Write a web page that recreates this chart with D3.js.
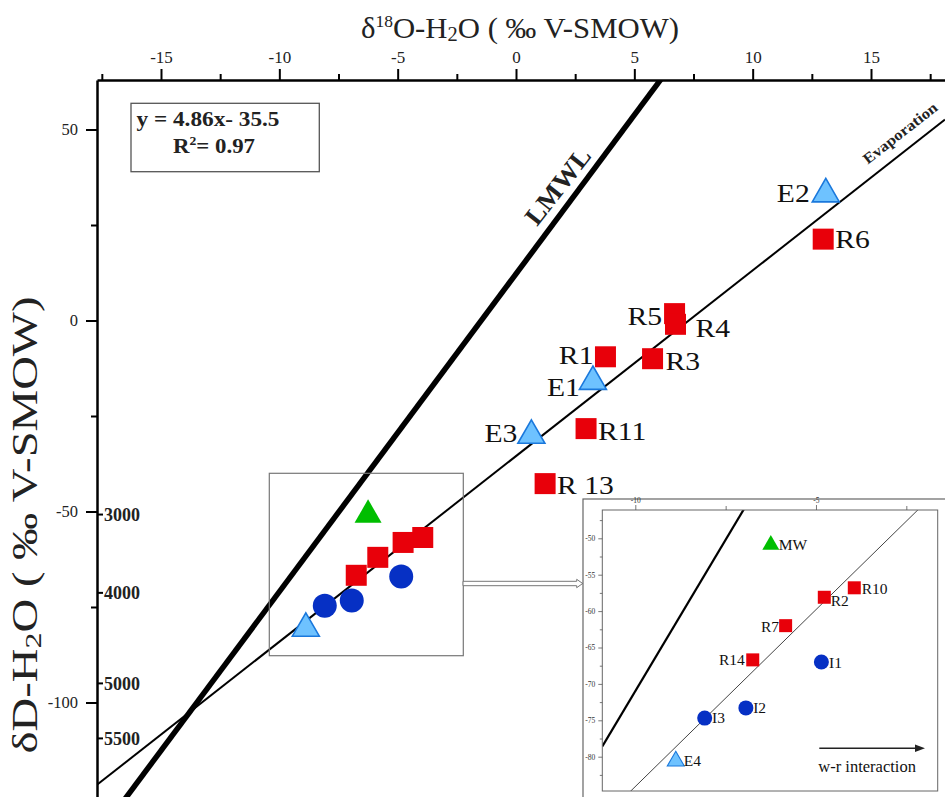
<!DOCTYPE html>
<html><head><meta charset="utf-8">
<script src="https://cdn.jsdelivr.net/npm/d3@7"></script>
<style>body{margin:0;background:#fff}svg{display:block}</style>
</head><body>
<script>
// ---------- data ----------
const xTicksMajor = [-15, -10, -5, 0, 5, 10, 15];
const xTicksMinor = [-17.5, -12.5, -7.5, -2.5, 2.5, 7.5, 12.5, 17.5];
const yTicksMajor = [50, 0, -50, -100];
const yTicksMinor = [25, -25, -75];
const elevLabels = ["3000", "4000", "5000", "5500"];
const elevDelta = [-50.8, -71.3, -95.0, -109.4];

const sampleNames = ["E2", "R6", "R5", "R4", "R1", "R3", "E1", "E3", "R11", "R13",
                     "MW", "R10", "R2", "R7", "R14", "I1", "I2", "I3", "E4"];
const sampleType  = ["E", "R", "R", "R", "R", "R", "E", "E", "R", "R",
                     "MW", "R", "R", "R", "R", "I", "I", "I", "E"];
const d18O = [13.09, 12.98, 6.70, 6.74, 3.78, 5.77, 3.25, 0.65, 2.96, 1.23,
              -6.25, -3.94, -4.77, -5.84, -6.75, -4.85, -6.94, -8.08, -8.88];
const dD   = [33.1, 21.3, 1.8, -1.0, -9.5, -10.0, -16.0, -30.1, -28.3, -42.7,
              -50.9, -56.8, -58.1, -62.0, -66.7, -67.0, -73.3, -74.7, -80.6];
const mainLabelText = {E2: "E2", R6: "R6", R5: "R5", R4: "R4", R1: "R1", R3: "R3",
                       E1: "E1", E3: "E3", R11: "R11", R13: "R 13"};
const insetNames = ["MW", "R10", "R2", "R7", "R14", "I1", "I2", "I3", "E4"];
const insetXTicks = [-10, -5];
const insetXMinor = [-7.5, -2.5];
const insetYTicks = [-50, -55, -60, -65, -70, -75, -80];
const insetYMinor = [-47.5, -52.5, -57.5, -62.5, -67.5, -72.5, -77.5, -82.5];

const evapSlope = 4.86, evapIntercept = -35.5;
const lmwlSlope = 8.32, lmwlIntercept = 12.2;

// ---------- layout / style ----------
const W = 945, H = 797;
const SERIF = "'Liberation Serif','Times New Roman',serif";
const colors = {R: "#e8000a", I: "#0630c4", E: "#6ec2ff", MW: "#00be00"};
const strokes = {R: "none", I: "none", E: "#1a78dc", MW: "none"};
const symbols = {R: d3.symbolSquare, I: d3.symbolCircle, E: d3.symbolTriangle, MW: d3.symbolTriangle};
const mainSize = {R: 441, I: 452, E: 316, MW: 316};
const insetSize = {R: 169, I: 177, E: 125, MW: 125};

// label offsets [dx, dy, anchor]
const mainOff = {E2: [-16, 8, "end"], R6: [12, 9, "start"], R5: [-12.5, 11, "end"], R4: [20, 13, "start"],
  R1: [-12, 7, "end"], R3: [13, 11, "start"], E1: [-13, 14, "end"], E3: [-14, 7, "end"],
  R11: [12, 11, "start"], R13: [12, 10, "start"]};
const insetOff = {MW: [8, 5, "start"], R10: [7.5, 6, "start"], R2: [6.5, 9, "start"], R7: [-6.5, 6, "end"],
  R14: [-8, 5, "end"], I1: [7.6, 6, "start"], I2: [7.3, 5, "start"], I3: [7.3, 5, "start"], E4: [8, 5, "start"]};

const samples = sampleNames.map((n, i) => ({name: n, type: sampleType[i], x: d18O[i], y: dD[i]}));

// stretch a text horizontally (the reference typography is slightly wide)
function stretch(sel, k) {
  sel.each(function () {
    const L = this.getComputedTextLength();
    d3.select(this).attr("textLength", L * k).attr("lengthAdjust", "spacingAndGlyphs");
  });
}

const svg = d3.select("body").append("svg").attr("width", W).attr("height", H)
  .style("font-family", SERIF);
svg.append("rect").attr("width", W).attr("height", H).attr("fill", "#fff");

const pLeft = 97, pTop = 80, pRight = 945, pBottom = 797;
const x = d3.scaleLinear().domain([(pLeft - 516) / 23.667, (pRight - 516) / 23.667]).range([pLeft, pRight]);
const y = d3.scaleLinear().domain([(320.5 - pTop) / 3.82, (320.5 - pBottom) / 3.82]).range([pTop, pBottom]);

const defs = svg.append("defs");
defs.append("clipPath").attr("id", "mainClip").append("rect")
  .attr("x", pLeft).attr("y", pTop).attr("width", pRight - pLeft).attr("height", pBottom - pTop);

// ---------- lines ----------
const lineGen = (xs, ys, m, b) => d3.line()(xs.domain().map(v => [xs(v), ys(m * v + b)]));
const gl = svg.append("g").attr("clip-path", "url(#mainClip)");
gl.append("path").attr("d", lineGen(x, y, lmwlSlope, lmwlIntercept))
  .attr("stroke", "#000").attr("stroke-width", 5.5).attr("fill", "none");
gl.append("path").attr("d", lineGen(x, y, evapSlope, evapIntercept))
  .attr("stroke", "#000").attr("stroke-width", 2).attr("fill", "none");

// ---------- axes ----------
const fmt = d => String(d);
const axTop = svg.append("g").attr("transform", `translate(0,${pTop})`)
  .call(d3.axisTop(x).tickValues(xTicksMajor).tickFormat(fmt).tickSize(11).tickPadding(6).tickSizeOuter(0));
svg.append("g").attr("transform", `translate(0,${pTop})`)
  .call(d3.axisTop(x).tickValues(xTicksMinor).tickFormat("").tickSize(6).tickSizeOuter(0))
  .select(".domain").remove();
const axLeft = svg.append("g").attr("transform", `translate(${pLeft},0)`)
  .call(d3.axisLeft(y).tickValues(yTicksMajor).tickFormat(fmt).tickSize(11).tickPadding(8).tickSizeOuter(0));
svg.append("g").attr("transform", `translate(${pLeft},0)`)
  .call(d3.axisLeft(y).tickValues(yTicksMinor).tickFormat("").tickSize(6).tickSizeOuter(0))
  .select(".domain").remove();
svg.selectAll(".domain").attr("stroke", "#000").attr("stroke-width", 2.5);
svg.selectAll(".tick line").attr("stroke", "#000").attr("stroke-width", 2);
axTop.selectAll("text").attr("font-family", SERIF).attr("font-size", 17).attr("fill", "#222");
axLeft.selectAll("text").attr("font-family", SERIF).attr("font-size", 16.5).attr("fill", "#222");

// elevation marks
const ge = svg.append("g");
elevLabels.forEach((lab, i) => {
  const yy = y(elevDelta[i]);
  ge.append("line").attr("x1", pLeft).attr("x2", pLeft + 6).attr("y1", yy).attr("y2", yy)
    .attr("stroke", "#000").attr("stroke-width", 2);
  ge.append("text").attr("x", pLeft + 7).attr("y", yy).attr("dy", "0.35em")
    .attr("font-size", 18).attr("font-weight", "bold").attr("fill", "#222").text(lab);
});

// titles
const tt = svg.append("text").attr("x", 520).attr("y", 37.5).attr("text-anchor", "middle")
  .attr("font-size", 30).attr("fill", "#222").attr("textLength", 318).attr("lengthAdjust", "spacingAndGlyphs");
tt.append("tspan").text("δ");
tt.append("tspan").attr("font-size", 17).attr("dy", -11).text("18");
tt.append("tspan").attr("dy", 11).text("O-H");
tt.append("tspan").attr("font-size", 20).attr("dy", 3).text("2");
tt.append("tspan").attr("dy", -3).text("O ( ‰ V-SMOW)");

const yl = svg.append("text").attr("transform", "translate(37,525) rotate(-90)")
  .attr("text-anchor", "middle").attr("font-size", 35).attr("fill", "#222")
  .attr("textLength", 457).attr("lengthAdjust", "spacingAndGlyphs");
yl.append("tspan").text("δD-H");
yl.append("tspan").attr("font-size", 24).attr("dy", 4).text("2");
yl.append("tspan").attr("dy", -4).text("O ( ‰ V-SMOW)");

// equation box
svg.append("rect").attr("x", 131).attr("y", 103.3).attr("width", 188.3).attr("height", 68.4)
  .attr("fill", "#fff").attr("stroke", "#555").attr("stroke-width", 1.3);
svg.append("text").attr("x", 136.5).attr("y", 126).attr("font-size", 20).attr("font-weight", "bold")
  .attr("fill", "#222").attr("textLength", 143).attr("lengthAdjust", "spacingAndGlyphs")
  .text(`y = ${evapSlope}x- ${Math.abs(evapIntercept)}`);
const r2 = svg.append("text").attr("x", 173).attr("y", 153).attr("font-size", 20).attr("font-weight", "bold")
  .attr("fill", "#222").attr("textLength", 82).attr("lengthAdjust", "spacingAndGlyphs");
r2.append("tspan").text("R");
r2.append("tspan").attr("font-size", 12).attr("dy", -8).text("2");
r2.append("tspan").attr("dy", 8).text("= 0.97");

// line labels
svg.append("text").attr("transform", "translate(557.5,186) rotate(-52)")
  .attr("text-anchor", "middle").attr("dy", "0.35em").attr("font-size", 26).attr("font-weight", "bold")
  .attr("fill", "#222").attr("textLength", 90).attr("lengthAdjust", "spacingAndGlyphs").text("LMWL");
svg.append("text").attr("transform", "translate(900,133) rotate(-38)")
  .attr("text-anchor", "middle").attr("dy", "0.35em").attr("font-size", 15).attr("font-weight", "bold")
  .attr("fill", "#222").attr("textLength", 90).attr("lengthAdjust", "spacingAndGlyphs").text("Evaporation");

// zoom region box and arrow
svg.append("rect").attr("x", 269.3).attr("y", 473.3).attr("width", 194).attr("height", 182.4)
  .attr("fill", "none").attr("stroke", "#777").attr("stroke-width", 1.2);
svg.append("path").attr("d", "M463,581.3H576.7V579.3L582.7,583.5L576.7,587.7V585.7H463Z")
  .attr("fill", "#fff").attr("stroke", "#777").attr("stroke-width", 1);

// ---------- points (main) ----------
function drawPoints(g, data, xs, ys, sizes) {
  g.selectAll("path.pt").data(data).join("path").attr("class", "pt")
    .attr("transform", d => `translate(${xs(d.x)},${ys(d.y)})`)
    .attr("d", d => d3.symbol().type(symbols[d.type]).size(sizes[d.type])())
    .attr("fill", d => colors[d.type])
    .attr("stroke", d => strokes[d.type]).attr("stroke-width", 1.6);
}
const gp = svg.append("g");
drawPoints(gp, samples, x, y, mainSize);
samples.filter(d => mainOff[d.name]).forEach(d => {
  const o = mainOff[d.name];
  gp.append("text").attr("class", "mlab").attr("x", x(d.x) + o[0]).attr("y", y(d.y) + o[1]).attr("text-anchor", o[2])
    .attr("font-size", 26).attr("fill", "#111").text(mainLabelText[d.name]);
});
stretch(gp.selectAll("text.mlab"), 1.14);

// ---------- inset ----------
const gi = svg.append("g");
gi.append("rect").attr("x", 583).attr("y", 499).attr("width", 400).attr("height", 400)
  .attr("fill", "#fff").attr("stroke", "#666").attr("stroke-width", 1.2);
const il = 602.3, it = 510, ir = 937.7, ib = 791;
const xi = d3.scaleLinear().domain([-10 - (635.3 - il) / 36.13, -5 + (ir - 816) / 36.13]).range([il, ir]);
const yi = d3.scaleLinear().domain([-50 + (538.3 - it) / 7.28, -50 - (ib - 538.3) / 7.28]).range([it, ib]);
defs.append("clipPath").attr("id", "insetClip").append("rect")
  .attr("x", il).attr("y", it).attr("width", ir - il).attr("height", ib - it);
const gil = gi.append("g").attr("clip-path", "url(#insetClip)");
gil.append("path").attr("d", lineGen(xi, yi, lmwlSlope, lmwlIntercept))
  .attr("stroke", "#000").attr("stroke-width", 2.2).attr("fill", "none");
gil.append("path").attr("d", lineGen(xi, yi, evapSlope, evapIntercept))
  .attr("stroke", "#444").attr("stroke-width", 1).attr("fill", "none");
gi.append("rect").attr("x", il).attr("y", it).attr("width", ir - il).attr("height", ib - it)
  .attr("fill", "none").attr("stroke", "#666").attr("stroke-width", 1);

const iaxT = gi.append("g").attr("transform", `translate(0,${it})`)
  .call(d3.axisTop(xi).tickValues(insetXTicks).tickFormat(fmt).tickSize(5).tickPadding(2));
const iaxT2 = gi.append("g").attr("transform", `translate(0,${it})`)
  .call(d3.axisTop(xi).tickValues(insetXMinor).tickFormat("").tickSize(4));
const iaxL = gi.append("g").attr("transform", `translate(${il},0)`)
  .call(d3.axisLeft(yi).tickValues(insetYTicks).tickFormat(fmt).tickSize(4).tickPadding(3));
const iaxL2 = gi.append("g").attr("transform", `translate(${il},0)`)
  .call(d3.axisLeft(yi).tickValues(insetYMinor).tickFormat("").tickSize(2.5));
[iaxT, iaxT2, iaxL, iaxL2].forEach(a => {
  a.select(".domain").remove();
  a.selectAll(".tick line").attr("stroke", "#555").attr("stroke-width", 0.8);
  a.selectAll("text").attr("font-family", SERIF).attr("font-size", 7.5).attr("fill", "#333");
});

const insetData = samples.filter(d => insetNames.includes(d.name));
const gip = gi.append("g");
drawPoints(gip, insetData, xi, yi, insetSize);
gip.selectAll("path.pt").attr("stroke-width", 1.1);
insetData.forEach(d => {
  const o = insetOff[d.name];
  gip.append("text").attr("x", xi(d.x) + o[0]).attr("y", yi(d.y) + o[1]).attr("text-anchor", o[2])
    .attr("font-size", 15.5).attr("fill", "#111").text(d.name);
});

// w-r interaction arrow
gi.append("line").attr("x1", 819.3).attr("x2", 917).attr("y1", 748.3).attr("y2", 748.3)
  .attr("stroke", "#222").attr("stroke-width", 1.6);
gi.append("path").attr("d", "M925,748.3L915,744.6L915,752Z").attr("fill", "#222");
gi.append("text").attr("x", 818.3).attr("y", 771.7).attr("font-size", 16.5).attr("fill", "#111")
  .text("w-r interaction");
</script>
</body></html>
